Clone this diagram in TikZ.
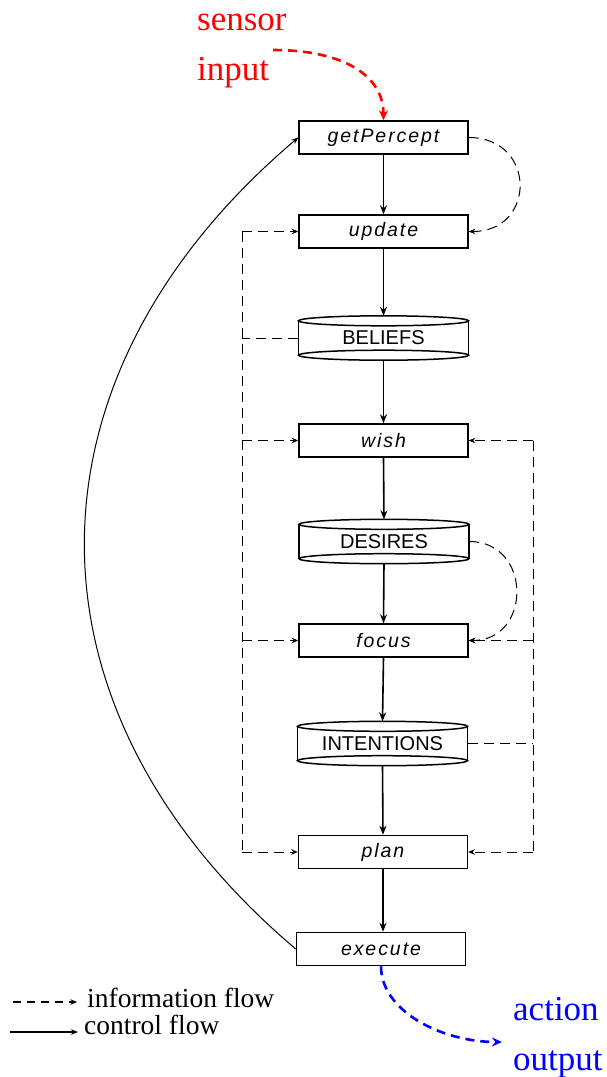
\documentclass[tikz,border=0pt]{standalone}
\usepackage{fontspec}
\setmainfont{Liberation Serif}
\newfontfamily\lblfont[LetterSpace=10]{Liberation Sans}
\newfontfamily\storefont{Liberation Sans}
\usetikzlibrary{arrows.meta}
\newcommand\drawstore[1]{%
  \draw[line width=1.5pt] ([yshift=-5pt]#1.north west) -- ([yshift=5pt]#1.south west)
    ([yshift=-5pt]#1.north east) -- ([yshift=5pt]#1.south east);
  \draw[line width=1.5pt] ([yshift=-5pt]#1.north) ellipse [x radius=85pt, y radius=5pt];
  \draw[line width=1.5pt] ([yshift=5pt]#1.south) ellipse [x radius=85pt, y radius=5pt];
}
\begin{document}
\begin{tikzpicture}[x=1pt,y=-1pt,
  proc/.style={draw, line width=1.5pt, minimum width=169pt, minimum height=33pt, inner sep=0pt,
    font={\lblfont\itshape\fontsize{19.5}{22}\selectfont}},
  store/.style={minimum width=170pt, minimum height=44pt, inner sep=0pt,
    font={\storefont\fontsize{20}{24}\selectfont}},
  ctrl/.style={line width=1.6pt, -{Stealth[length=9pt,width=7pt]}},
  info/.style={line width=1pt, dash pattern=on 10pt off 6pt},
  infoarr/.style={info, -{Stealth[length=6.5pt,width=5.5pt]}},
  thinarr/.style={line width=1pt, -{Stealth[length=7pt,width=5.5pt]}},
  ioarr/.style={line width=2.6pt, dash pattern=on 9pt off 6pt, -{Stealth[length=10pt,width=9pt]}},
  txt/.style={inner sep=0pt, anchor=west, font={\fontsize{27.5}{30}\selectfont}},
  io/.style={inner sep=0pt, anchor=north west, align=left, font={\fontsize{35}{50}\selectfont}}
]
\useasboundingbox (0,0) rectangle (606,1077);

\node[proc] (gp) at (383.5,137.5) {getPercept};
\node[proc] (up) at (383.5,231.5) {update};
\node[store] (bel) at (383.5,338) {BELIEFS};
\node[proc] (wish) at (383.5,440.5) {wish};
\node[store] (des) at (384,541.5) {DESIRES};
\node[proc] (focus) at (383.5,640.5) {focus};
\node[store] (int) at (382.5,743.5) {INTENTIONS};
\node[proc] (plan) at (383,852) {plan};
\node[proc] (exec) at (381,949) {execute};
\drawstore{bel}
\drawstore{des}
\drawstore{int}

% control flow
\draw[ctrl] (gp.south) -- (up.north);
\draw[ctrl] (up.south) -- (bel.north);
\draw[ctrl] (bel.south) -- (wish.north);
\draw[ctrl] (wish.south) -- (des.north);
\draw[ctrl] (des.south) -- (focus.north);
\draw[ctrl] (focus.south) -- (int.north);
\draw[ctrl] (int.south) -- (plan.north);
\draw[ctrl] (plan.south) -- (plan.south |- exec.north);
\draw[thinarr] (exec.west) .. controls +(-283,-240) and +(-283,240) .. (gp.west);

% information flow, left
\coordinate (lu) at (242,231.5);
\coordinate (lb) at (242,338);
\coordinate (lw) at (242,440.5);
\coordinate (lf) at (242,640.5);
\coordinate (lp) at (242,852);
\draw[info] (lu) -- (lp);
\draw[info] (bel.west) -- (lb);
\draw[infoarr] (lu) -- (up.west);
\draw[infoarr] (lw) -- (wish.west);
\draw[infoarr] (lf) -- (focus.west);
\draw[infoarr] (lp) -- (plan.west);

% information flow, right
\coordinate (rw) at (533,440.5);
\coordinate (rf) at (533,640.5);
\coordinate (ri) at (533,743.5);
\coordinate (rp) at (533,852);
\draw[info] (rw) -- (rp);
\draw[info] (int.east) -- (ri);
\draw[infoarr] (rw) -- (wish.east);
\draw[infoarr] (rf) -- (focus.east);
\draw[infoarr] (rp) -- (plan.east);
\draw[infoarr] (gp.east) to[out=0,in=0,looseness=1.85] (up.east);
\draw[infoarr] (des.east) to[out=0,in=0,looseness=1.63] (focus.east);

% sensor input / action output
\node[io, red] (sens) at (197,14) {sensor\\input};
\coordinate (rs) at (273,50);
\draw[ioarr, red] (rs) .. controls +(70,0) and +(0,-45) .. (gp.north);
\node[io, blue] (act) at (513,997) {action\\output};
\coordinate (ao) at (502,1042);
\draw[ioarr, blue] (exec.south) .. controls +(0,45) and +(-60,0) .. (ao);

% legend
\coordinate (la1) at (13,1002);
\coordinate (la2) at (77,1002);
\coordinate (lc1) at (10,1032);
\coordinate (lc2) at (78,1032);
\draw[infoarr, line width=1.3pt, dash pattern=on 8pt off 6pt] (la1) -- (la2);
\draw[thinarr, line width=1.4pt] (lc1) -- (lc2);
\node[txt] (t1) at (87,997.5) {information flow};
\node[txt] (t2) at (84,1025) {control flow};
\end{tikzpicture}
\end{document}
